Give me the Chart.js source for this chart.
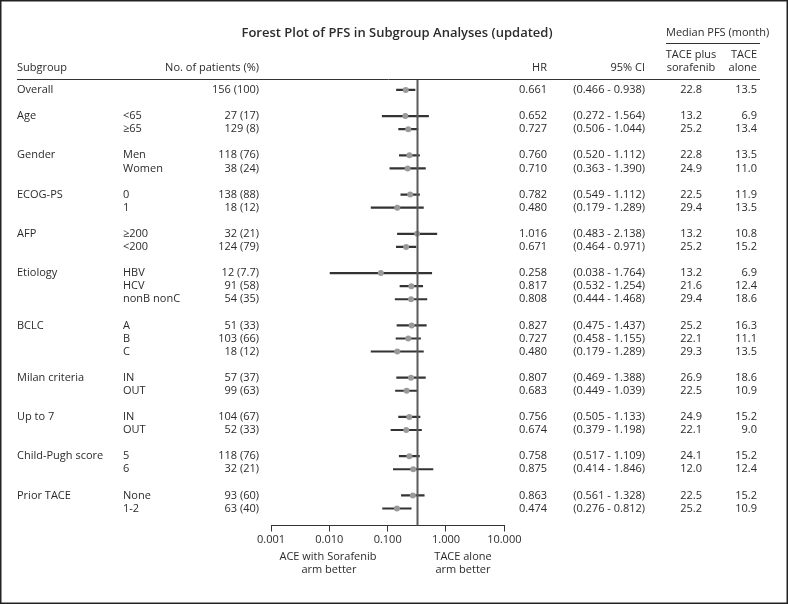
<!DOCTYPE html>
<html>
<head>
<meta charset="utf-8">
<script src="https://cdn.jsdelivr.net/npm/chart.js@4.4.1/dist/chart.umd.min.js"></script>
<style>
  html, body { margin: 0; padding: 0; background: #fff; }
  #wrap { width: 788px; height: 604px; position: relative; }
</style>
</head>
<body>
<div id="wrap"><canvas id="c" width="788" height="604"></canvas></div>
<script>
// ---------- DATA ----------
const title = 'Forest Plot of PFS in Subgroup Analyses (updated)';
const groupLabels = ['Overall','Age','','Gender','','ECOG-PS','','AFP','','Etiology','','','BCLC','','','Milan criteria','','Up to 7','','Child-Pugh score','','Prior TACE',''];
const categories = ['','<65','≥65','Men','Women','0','1','≥200','<200','HBV','HCV','nonB nonC','A','B','C','IN','OUT','IN','OUT','5','6','None','1-2'];
const patients = ['156 (100)','27 (17)','129 (8)','118 (76)','38 (24)','138 (88)','18 (12)','32 (21)','124 (79)','12 (7.7)','91 (58)','54 (35)','51 (33)','103 (66)','18 (12)','57 (37)','99 (63)','104 (67)','52 (33)','118 (76)','32 (21)','93 (60)','63 (40)'];
const hr     = [0.661,0.652,0.727,0.760,0.710,0.782,0.480,1.016,0.671,0.258,0.817,0.808,0.827,0.727,0.480,0.807,0.683,0.756,0.674,0.758,0.875,0.863,0.474];
const ciLow  = [0.466,0.272,0.506,0.520,0.363,0.549,0.179,0.483,0.464,0.038,0.532,0.444,0.475,0.458,0.179,0.469,0.449,0.505,0.379,0.517,0.414,0.561,0.276];
const ciHigh = [0.938,1.564,1.044,1.112,1.390,1.112,1.289,2.138,0.971,1.764,1.254,1.468,1.437,1.155,1.289,1.388,1.039,1.133,1.198,1.109,1.846,1.328,0.812];
const medCombo = ['22.8','13.2','25.2','22.8','24.9','22.5','29.4','13.2','25.2','13.2','21.6','29.4','25.2','22.1','29.3','26.9','22.5','24.9','22.1','24.1','12.0','22.5','25.2'];
const medAlone = ['13.5','6.9','13.4','13.5','11.0','11.9','13.5','10.8','15.2','6.9','12.4','18.6','16.3','11.1','13.5','18.6','10.9','15.2','9.0','15.2','12.4','15.2','10.9'];
const rowSlot = [0,2,3,5,6,8,9,11,12,14,15,16,18,19,20,22,23,25,26,28,29,31,32];
const tickValues = [0.001,0.01,0.1,1,10];
const tickLabels = ['0.001','0.010','0.100','1.000','10.000'];
const refValue = 1;

// ---------- STYLE ----------
const FONT = '"Open Sans", "DejaVu Sans", sans-serif';
const TXT = '#2b2b2b';

const textPlugin = {
  id: 'forestText',
  beforeDraw(chart) {
    const ctx = chart.ctx;
    ctx.save();
    ctx.fillStyle = '#fff';
    ctx.fillRect(0, 0, chart.width, chart.height);
    ctx.restore();
  },
  afterDatasetsDraw(chart) {
    // reference line at HR = 1 (drawn over bars like in the reference)
    const ctx = chart.ctx, x = chart.scales.x, a = chart.chartArea;
    const px = Math.round(x.getPixelForValue(refValue)) + 0.5;
    ctx.save();
    ctx.strokeStyle = '#5a5a5a';
    ctx.lineWidth = 2;
    ctx.beginPath();
    ctx.moveTo(px, a.top);
    ctx.lineTo(px, a.bottom);
    ctx.stroke();
    ctx.restore();
  },
  afterDraw(chart) {
    const ctx = chart.ctx, y = chart.scales.y;
    ctx.save();
    ctx.fillStyle = TXT;
    ctx.textBaseline = 'middle';
    // title
    ctx.font = '600 13px ' + FONT;
    ctx.textAlign = 'center';
    ctx.fillText(title, 397, 33);
    // headers
    ctx.font = '11px ' + FONT;
    ctx.textAlign = 'left';
    ctx.fillText('Median PFS (month)', 666, 33);
    ctx.fillText('Subgroup', 17, 68);
    ctx.textAlign = 'right';
    ctx.fillText('No. of patients (%)', 259, 68);
    ctx.fillText('HR', 547, 68);
    ctx.fillText('95% CI', 645, 68);
    ctx.textAlign = 'center';
    ctx.fillText('TACE plus', 691, 55);
    ctx.fillText('sorafenib', 691, 68);
    ctx.textAlign = 'right';
    ctx.fillText('TACE', 757, 55);
    ctx.fillText('alone', 757, 68);
    // header rules
    ctx.strokeStyle = '#333';
    ctx.lineWidth = 1;
    ctx.beginPath();
    ctx.moveTo(666, 43.5); ctx.lineTo(760, 43.5);
    ctx.moveTo(17, 79.5); ctx.lineTo(760, 79.5);
    ctx.stroke();
    // rows
    for (let i = 0; i < categories.length; i++) {
      const py = y.getPixelForValue(rowSlot[i]);
      ctx.textAlign = 'left';
      if (groupLabels[i]) ctx.fillText(groupLabels[i], 17, py);
      if (categories[i]) ctx.fillText(categories[i], 123, py);
      ctx.textAlign = 'right';
      ctx.fillText(patients[i], 259, py);
      ctx.fillText(hr[i].toFixed(3), 547, py);
      ctx.fillText('(' + ciLow[i].toFixed(3) + ' - ' + ciHigh[i].toFixed(3) + ')', 645, py);
      ctx.fillText(medCombo[i], 702, py);
      ctx.fillText(medAlone[i], 757, py);
    }
    // axis captions
    ctx.textAlign = 'center';
    ctx.fillText('ACE with Sorafenib', 328, 557);
    ctx.fillText('arm better', 329, 570);
    ctx.fillText('TACE alone', 463, 557);
    ctx.fillText('arm better', 463, 570);
    // frame
    ctx.strokeStyle = '#222';
    ctx.lineWidth = 1.5;
    ctx.strokeRect(0.75, 0.75, chart.width - 1.5, chart.height - 1.5);
    ctx.restore();
  }
};

new Chart(document.getElementById('c'), {
  type: 'scatter',
  data: {
    datasets: [
      {
        type: 'bar',
        indexAxis: 'y',
        data: hr.map((v, i) => ({ x: [ciLow[i], ciHigh[i]], y: rowSlot[i] })),
        backgroundColor: '#333',
        borderWidth: 0,
        barThickness: 1.5,
        xAxisID: 'x', yAxisID: 'y',
        order: 2
      },
      {
        type: 'scatter',
        data: hr.map((v, i) => ({ x: v, y: rowSlot[i] })),
        pointRadius: 3,
        pointBackgroundColor: '#9a9a9a',
        pointBorderWidth: 0,
        xAxisID: 'x', yAxisID: 'y',
        order: 1
      }
    ]
  },
  options: {
    responsive: false,
    devicePixelRatio: 1,
    animation: false,
    events: [],
    layout: { padding: { left: 271, right: 283.7, top: 80, bottom: 0 } },
    plugins: { legend: { display: false }, tooltip: { enabled: false } },
    scales: {
      x: { type: 'logarithmic', display: false, min: 0.004088, max: 27.29 },
      y: { type: 'linear', display: false, reverse: true, min: -0.76, max: 33.3, offset: false },
      x2: {
        type: 'logarithmic', position: 'bottom', min: 0.001, max: 10,
        afterBuildTicks: (s) => { s.ticks = tickValues.map(v => ({ value: v, major: true })); },
        afterFit: (s) => { s.height = 78.5; },
        ticks: {
          autoSkip: false, maxRotation: 0, padding: 2, color: TXT,
          font: { family: FONT, size: 11 },
          callback: (v, i) => tickLabels[i]
        },
        grid: { drawOnChartArea: false, drawTicks: true, tickLength: 6, color: '#333', lineWidth: 1 },
        border: { display: true, color: '#333', width: 1 }
      }
    }
  },
  plugins: [textPlugin]
});
</script>
</body>
</html>
